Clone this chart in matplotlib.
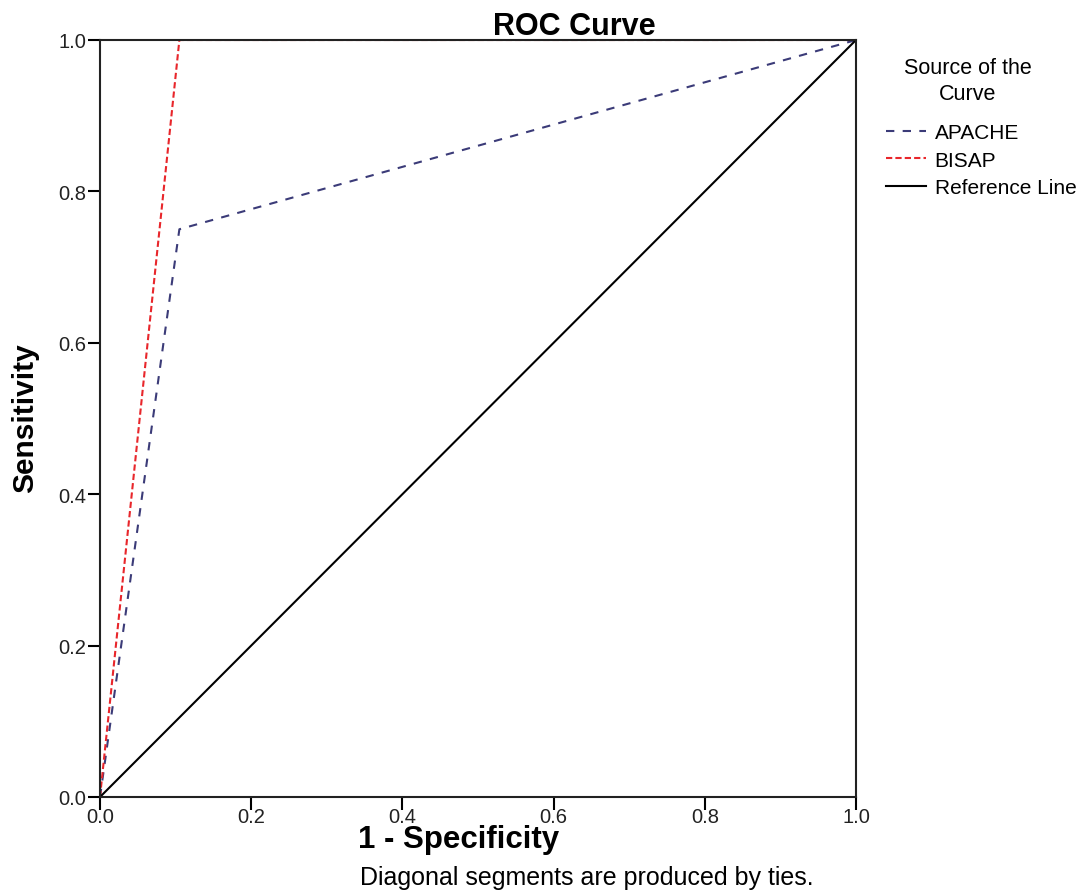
import matplotlib
matplotlib.use("Agg")
import matplotlib.pyplot as plt

plt.rcParams['font.family'] = ['Liberation Sans', 'DejaVu Sans']

# Data (1 - specificity, sensitivity)
apache_fpr = [0.0, 0.105, 1.0]
apache_tpr = [0.0, 0.75, 1.0]
bisap_fpr = [0.0, 0.105, 1.0]
bisap_tpr = [0.0, 1.0, 1.0]
ref_x = [0.0, 1.0]
ref_y = [0.0, 1.0]
ticks = [0.0, 0.2, 0.4, 0.6, 0.8, 1.0]
tick_labels = ["0.0", "0.2", "0.4", "0.6", "0.8", "1.0"]

fig = plt.figure(figsize=(10.9, 8.95), dpi=100)
ax = fig.add_axes([100/1090, 97/895, 756/1090, 757/895])

ax.plot(apache_fpr, apache_tpr, linestyle=(0, (4, 4)), color='#3b3b78', lw=1.5, label='APACHE')
ax.plot(bisap_fpr, bisap_tpr, linestyle=(0, (3, 1.5)), color='#e8262b', lw=1.5, label='BISAP')
ax.plot(ref_x, ref_y, color='black', lw=1.5, label='Reference Line')

ax.set_xlim(0, 1)
ax.set_ylim(0, 1)
ax.set_xticks(ticks)
ax.set_xticklabels(tick_labels)
ax.set_yticks(ticks)
ax.set_yticklabels(tick_labels)
ax.tick_params(direction='out', length=9, width=1.5, labelsize=14.5, colors='black', labelcolor='#222222')
ax.tick_params(axis='x', pad=-2)
ax.tick_params(axis='y', pad=1)
for s in ax.spines.values():
    s.set_linewidth(1.5)
    s.set_color('#222222')

fig.text(574/1090, 1 - 35/895, "ROC Curve", ha='center', va='baseline', fontsize=22, fontweight='bold')
fig.text(459/1090, 1 - 848/895, "1 - Specificity", ha='center', va='baseline', fontsize=22.5, fontweight='bold')
fig.text(25/1090, 1 - 418/895, "Sensitivity", ha='center', va='center', fontsize=21.5, fontweight='bold', rotation=90)
fig.text(587/1090, 1 - 878/895, "Diagonal segments are produced by ties.", ha='center', va='center', fontsize=18)

fig.text(968/1090, 1 - 68/895, "Source of the", ha='center', va='center', fontsize=15.5)
fig.text(968/1090, 1 - 94/895, "Curve", ha='center', va='center', fontsize=15.5)

leg = fig.legend(loc='upper left', bbox_to_anchor=(886/1090, 1 - 124/895),
                 fontsize=15, frameon=False, handlelength=1.9, handletextpad=0.43,
                 labelspacing=0.42, borderaxespad=0, borderpad=0)

fig.savefig("out.png", dpi=100)
